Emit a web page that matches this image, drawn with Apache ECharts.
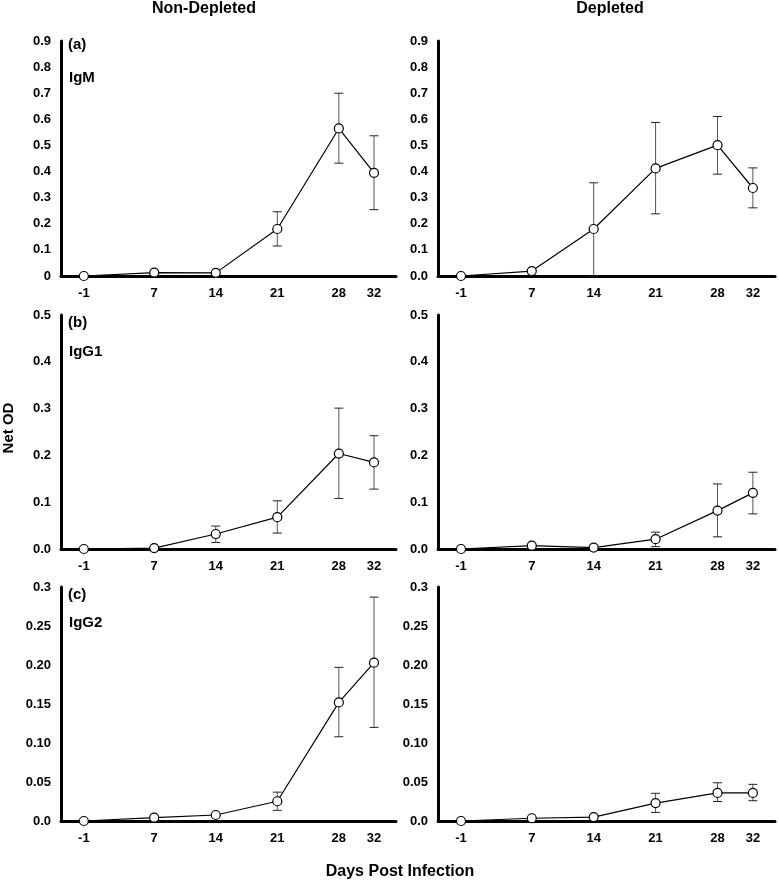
<!DOCTYPE html>
<html>
<head>
<meta charset="utf-8">
<script src="https://cdn.jsdelivr.net/npm/echarts@6/dist/echarts.min.js"></script>
<style>
html,body{margin:0;padding:0;background:#fff;}
#chart{width:779px;height:884px;}
</style>
</head>
<body>
<div id="chart"></div>
<script>
// ---- data ----
const days = [-1, 7, 14, 21, 28, 32];

const igmNonDep    = [0, 0.013, 0.012, 0.18, 0.565, 0.395];
const igmNonDepLo  = [null, null, null, 0.115, 0.432, 0.254];
const igmNonDepHi  = [null, null, null, 0.246, 0.700, 0.537];

const igmDep       = [0, 0.019, 0.18, 0.412, 0.501, 0.337];
const igmDepLo     = [null, null, 0.0, 0.238, 0.390, 0.261];
const igmDepHi     = [null, null, 0.357, 0.588, 0.611, 0.414];

const igg1NonDep   = [0, 0.002, 0.032, 0.068, 0.204, 0.185];
const igg1NonDepLo = [null, null, 0.014, 0.034, 0.108, 0.128];
const igg1NonDepHi = [null, null, 0.049, 0.103, 0.301, 0.242];

const igg1Dep      = [0, 0.007, 0.003, 0.021, 0.082, 0.120];
const igg1DepLo    = [null, null, null, 0.005, 0.026, 0.075];
const igg1DepHi    = [null, null, null, 0.036, 0.139, 0.164];

const igg2NonDep   = [0, 0.0043, 0.0077, 0.0253, 0.152, 0.203];
const igg2NonDepLo = [null, null, null, 0.0137, 0.108, 0.120];
const igg2NonDepHi = [null, null, null, 0.037, 0.197, 0.287];

const igg2Dep      = [0, 0.0035, 0.005, 0.023, 0.036, 0.036];
const igg2DepLo    = [null, null, null, 0.011, 0.025, 0.026];
const igg2DepHi    = [null, null, null, 0.0355, 0.049, 0.047];

const yTicksIgMLeft  = ['0', '0.1', '0.2', '0.3', '0.4', '0.5', '0.6', '0.7', '0.8', '0.9'];
const yTicksIgMRight = ['0.0', '0.1', '0.2', '0.3', '0.4', '0.5', '0.6', '0.7', '0.8', '0.9'];
const yTicksIgG1     = ['0.0', '0.1', '0.2', '0.3', '0.4', '0.5'];
const yTicksIgG2     = ['0.0', '0.05', '0.10', '0.15', '0.20', '0.25', '0.3'];

const columnTitles = ['Non-Depleted', 'Depleted'];
const panelLetters = ['(a)', '(b)', '(c)'];
const isotypes = ['IgM', 'IgG1', 'IgG2'];
const yAxisTitle = 'Net OD';
const xAxisTitle = 'Days Post Infection';

// ---- panels ----
const panels = [
  {row:0, col:0, vals:igmNonDep,  lo:igmNonDepLo,  hi:igmNonDepHi,  max:0.9, interval:0.1,  ticks:yTicksIgMLeft},
  {row:0, col:1, vals:igmDep,     lo:igmDepLo,     hi:igmDepHi,     max:0.9, interval:0.1,  ticks:yTicksIgMRight},
  {row:1, col:0, vals:igg1NonDep, lo:igg1NonDepLo, hi:igg1NonDepHi, max:0.5, interval:0.1,  ticks:yTicksIgG1},
  {row:1, col:1, vals:igg1Dep,    lo:igg1DepLo,    hi:igg1DepHi,    max:0.5, interval:0.1,  ticks:yTicksIgG1},
  {row:2, col:0, vals:igg2NonDep, lo:igg2NonDepLo, hi:igg2NonDepHi, max:0.3, interval:0.05, ticks:yTicksIgG2},
  {row:2, col:1, vals:igg2Dep,    lo:igg2DepLo,    hi:igg2DepHi,    max:0.3, interval:0.05, ticks:yTicksIgG2}
];

const gridTops = [41, 315, 587];
const gridHeights = [235, 234, 234];
const gridLefts = [61, 438];
const gridWidths = [335, 337];

const FONT = 'Liberation Sans, Arial, sans-serif';

const grids = [], xAxes = [], yAxes = [], series = [];
panels.forEach((p, i) => {
  grids.push({left: gridLefts[p.col], top: gridTops[p.row], width: gridWidths[p.col], height: gridHeights[p.row], containLabel: false, outerBoundsMode: 'none'});
  xAxes.push({
    type: 'value', gridIndex: i, min: -3.6, max: 34.5,
    axisLine: {show: true, onZero: false, lineStyle: {color: '#000', width: 3}},
    axisTick: {show: false},
    splitLine: {show: false},
    axisLabel: {customValues: days, color: '#000', fontFamily: FONT, fontWeight: 'bold', fontSize: 13, margin: 11, formatter: v => String(v)}
  });
  const ticks = p.ticks, interval = p.interval;
  yAxes.push({
    type: 'value', gridIndex: i, min: 0, max: p.max, interval: interval,
    axisLine: {show: true, onZero: false, lineStyle: {color: '#000', width: 3}},
    axisTick: {show: false},
    splitLine: {show: false},
    axisLabel: {color: '#000', fontFamily: FONT, fontWeight: 'bold', fontSize: 13, margin: 10,
      formatter: v => ticks[Math.round(v / interval)] || ''}
  });
  const errData = [];
  days.forEach((d, k) => { if (p.lo[k] != null) errData.push([d, p.lo[k], p.hi[k]]); });
  series.push({
    type: 'custom', xAxisIndex: i, yAxisIndex: i, z: 1, silent: true,
    data: errData,
    renderItem: function (params, api) {
      const x = api.value(0);
      const a = api.coord([x, api.value(1)]);
      const b = api.coord([x, api.value(2)]);
      const cap = 4.5;
      const st = {stroke: '#555', lineWidth: 1};
      const sc = {stroke: '#222', lineWidth: 1};
      return {type: 'group', children: [
        {type: 'line', shape: {x1: a[0], y1: a[1], x2: b[0], y2: b[1]}, style: st},
        {type: 'line', shape: {x1: b[0] - cap, y1: b[1], x2: b[0] + cap, y2: b[1]}, style: sc},
        {type: 'line', shape: {x1: a[0] - cap, y1: a[1], x2: a[0] + cap, y2: a[1]}, style: sc}
      ]};
    }
  });
  series.push({
    type: 'line', xAxisIndex: i, yAxisIndex: i, z: 3,
    data: days.map((d, k) => [d, p.vals[k]]),
    symbol: 'circle', symbolSize: 9, showSymbol: true,
    lineStyle: {color: '#000', width: 1.2},
    itemStyle: {color: '#fff', borderColor: '#000', borderWidth: 1.2},
    animation: false
  });
});

const textStyle = (fs) => ({fill: '#000', font: 'bold ' + fs + 'px ' + FONT});
const graphics = [
  {type: 'text', left: 'center', x: 204, y: 9, style: Object.assign({text: columnTitles[0], textAlign: 'center', textVerticalAlign: 'middle'}, textStyle(16))},
  {type: 'text', x: 610, y: 9, style: Object.assign({text: columnTitles[1], textAlign: 'center', textVerticalAlign: 'middle'}, textStyle(16))},
  {type: 'text', x: 400, y: 872, style: Object.assign({text: xAxisTitle, textAlign: 'center', textVerticalAlign: 'middle'}, textStyle(16))},
  {type: 'text', x: 9, y: 428, rotation: Math.PI / 2, style: Object.assign({text: yAxisTitle, textAlign: 'center', textVerticalAlign: 'middle'}, textStyle(15))}
];
const letterY = [45, 323, 595];
const isoY = [78, 352, 623];
for (let r = 0; r < 3; r++) {
  graphics.push({type: 'text', x: 68, y: letterY[r], style: Object.assign({text: panelLetters[r], textAlign: 'left', textVerticalAlign: 'middle'}, textStyle(15))});
  graphics.push({type: 'text', x: 69, y: isoY[r], style: Object.assign({text: isotypes[r], textAlign: 'left', textVerticalAlign: 'middle'}, textStyle(15))});
}
graphics.forEach(g => { delete g.left; });

const chart = echarts.init(document.getElementById('chart'), null, {renderer: 'canvas'});
chart.setOption({
  animation: false,
  backgroundColor: '#fff',
  grid: grids, xAxis: xAxes, yAxis: yAxes, series: series,
  graphic: graphics
});
</script>
</body>
</html>
